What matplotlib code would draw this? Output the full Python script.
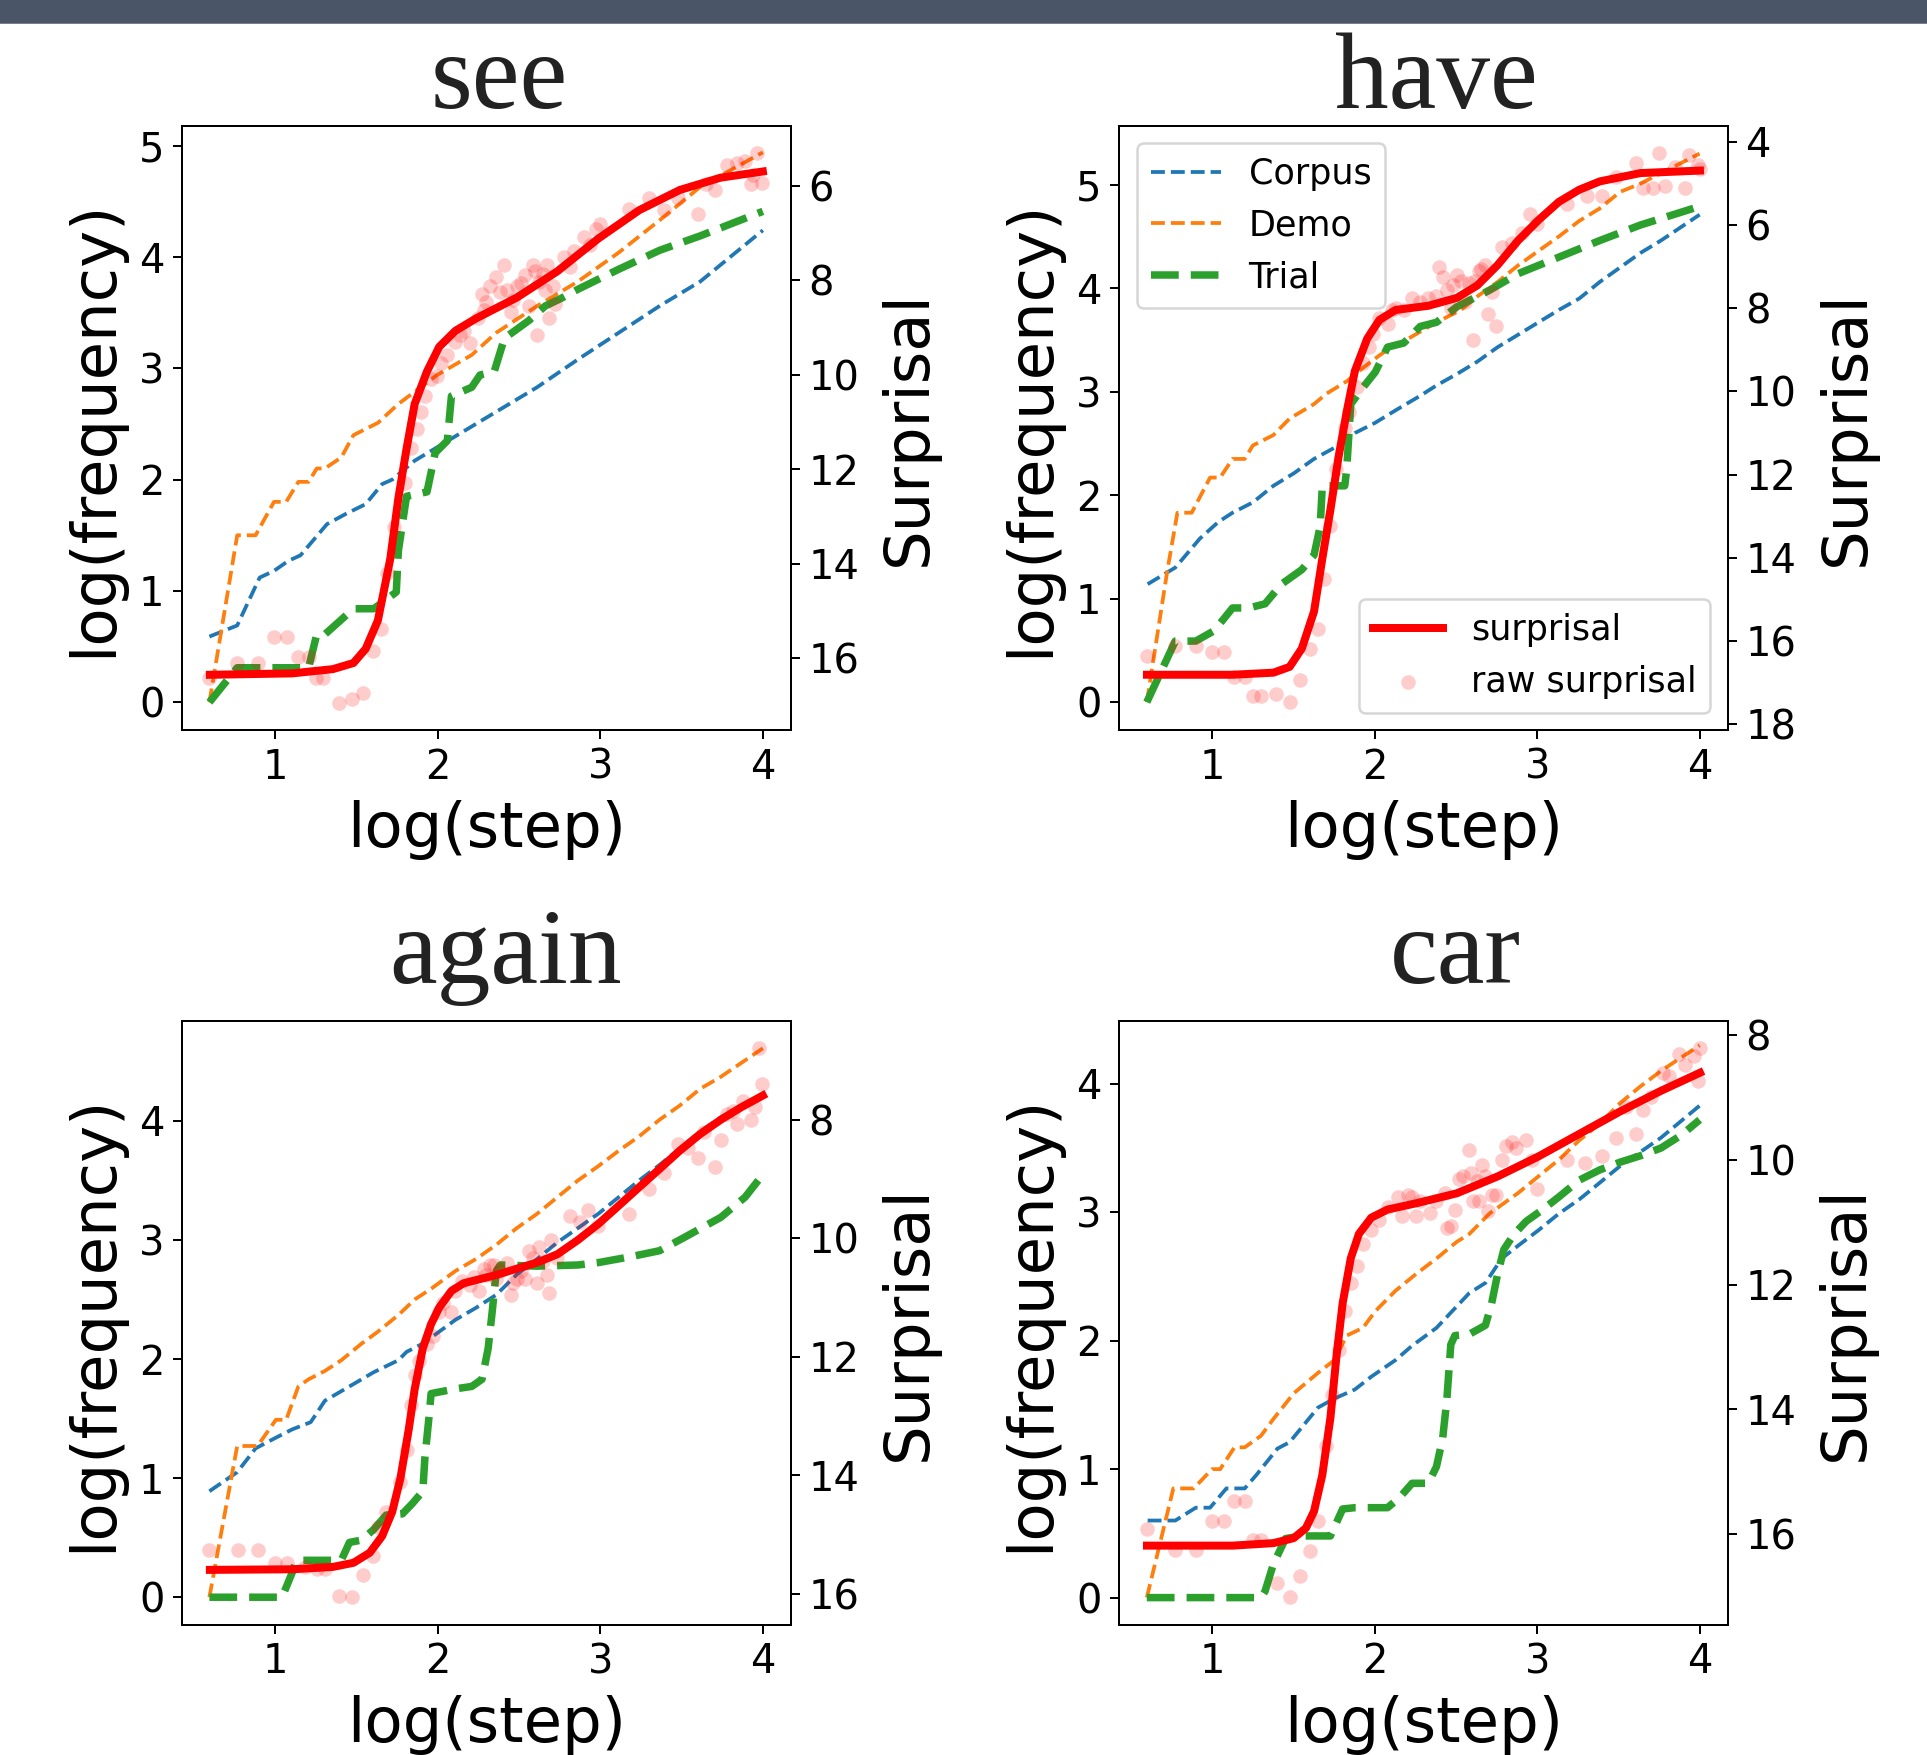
import matplotlib
matplotlib.use("Agg")
import matplotlib.pyplot as plt
from matplotlib.patches import Rectangle
from matplotlib.ticker import MultipleLocator

# ---------------- data: "see" ----------------
see_corpus_x = [0.597, 0.768, 0.906, 0.994, 1.082, 1.157, 1.320, 1.433, 1.558, 1.659, 1.721, 1.859,
                1.985, 2.110, 2.361, 2.612, 2.863, 3.114, 3.365, 3.615, 4.0]
see_corpus = [0.59, 0.69, 1.12, 1.18, 1.27, 1.32, 1.60, 1.69, 1.78, 1.96, 2.00, 2.17,
              2.28, 2.39, 2.61, 2.83, 3.08, 3.32, 3.56, 3.78, 4.24]
see_demo_x = [0.597, 0.768, 0.881, 0.994, 1.069, 1.144, 1.207, 1.257, 1.307, 1.408, 1.483, 1.633,
              1.759, 1.997, 2.210, 2.361, 2.612, 2.863, 3.114, 3.365, 3.615, 4.0]
see_demo = [0.0, 1.50, 1.50, 1.80, 1.80, 1.98, 1.98, 2.10, 2.10, 2.20, 2.40, 2.51,
            2.68, 2.94, 3.12, 3.32, 3.56, 3.78, 4.04, 4.33, 4.63, 4.94]
see_trial_x = [0.597, 0.768, 1.207, 1.257, 1.307, 1.483, 1.608, 1.746, 1.759, 1.809, 1.935, 1.985,
               2.060, 2.085, 2.210, 2.261, 2.348, 2.411, 2.562, 2.662, 2.762, 2.863, 3.114, 3.365,
               3.615, 4.0]
see_trial = [0.0, 0.31, 0.31, 0.61, 0.61, 0.84, 0.84, 0.99, 1.36, 1.85, 1.89, 2.24,
             2.35, 2.75, 2.83, 2.94, 2.97, 3.27, 3.43, 3.56, 3.63, 3.71, 3.89, 4.06,
             4.19, 4.41]
see_surp_x = [0.6, 1.107, 1.357, 1.483, 1.558, 1.633, 1.709, 1.759, 1.809, 1.859, 1.935, 2.010,
              2.110, 2.236, 2.486, 2.737, 2.988, 3.239, 3.490, 3.741, 4.0]
see_surp = [16.35, 16.32, 16.23, 16.10, 15.80, 15.20, 13.90, 12.61, 11.57, 10.62, 9.93, 9.41,
            9.07, 8.81, 8.37, 7.81, 7.12, 6.52, 6.09, 5.83, 5.70]
see_raw_x = [0.597, 0.768, 0.893, 0.994, 1.074, 1.144, 1.207, 1.252, 1.295, 1.395, 1.475, 1.541,
             1.601, 1.654, 1.691, 1.729, 1.797, 1.834, 1.872, 1.897, 1.922, 1.960, 1.997, 2.022,
             2.060, 2.110, 2.135, 2.160, 2.198, 2.248, 2.286, 2.273, 2.298, 2.323, 2.361, 2.386,
             2.411, 2.424, 2.449, 2.462, 2.487, 2.512, 2.537, 2.562, 2.587, 2.599, 2.612, 2.624,
             2.650, 2.662, 2.675, 2.687, 2.712, 2.725, 2.775, 2.813, 2.838, 2.900, 2.938, 2.976,
             3.001, 3.176, 3.302, 3.390, 3.477, 3.603, 3.653, 3.703, 3.778, 3.841, 3.891, 3.929,
             3.967, 3.992, 3.942]
see_raw = [16.41, 16.10, 16.10, 15.56, 15.56, 15.97, 15.97, 16.41, 16.41, 16.94, 16.86, 16.73,
           15.84, 15.39, 14.20, 13.23, 12.30, 11.55, 11.14, 10.79, 10.45, 10.10, 10.02, 9.76,
           9.58, 9.31, 9.15, 9.07, 9.32, 8.81, 8.63, 8.29, 8.46, 8.12, 7.94, 8.25,
           7.68, 8.20, 8.68, 8.42, 8.12, 8.07, 7.90, 8.55, 7.68, 7.81, 9.15, 8.03,
           7.86, 8.20, 7.68, 8.81, 8.12, 8.50, 7.51, 7.73, 7.38, 7.08, 7.25, 6.91,
           6.82, 6.50, 6.26, 6.52, 6.26, 6.60, 5.96, 6.09, 5.57, 5.51, 5.48, 5.96,
           5.31, 5.94, 5.78]

# ---------------- data: "have" ----------------
have_corpus_x = [0.604, 0.774, 0.925, 1.038, 1.126, 1.251, 1.377, 1.502, 1.627, 1.778, 1.878, 2.004,
                 2.129, 2.280, 2.380, 2.505, 2.631, 2.756, 2.882, 3.007, 3.133, 3.258, 3.384, 3.509,
                 3.634, 3.760, 3.998]
have_corpus = [1.14, 1.30, 1.58, 1.74, 1.83, 1.93, 2.09, 2.21, 2.35, 2.48, 2.60, 2.70,
               2.82, 2.96, 3.06, 3.17, 3.29, 3.43, 3.55, 3.67, 3.79, 3.90, 4.06, 4.20,
               4.34, 4.46, 4.71]
have_demo_x = [0.599, 0.724, 0.787, 0.875, 0.988, 1.050, 1.126, 1.201, 1.251, 1.377, 1.477, 1.627,
               1.703, 1.828, 1.928, 2.029, 2.104, 2.204, 2.380, 2.531, 2.631, 2.756, 2.882, 3.007,
               3.133, 3.258, 3.384, 3.509, 3.634, 3.998]
have_demo = [0.0, 1.26, 1.83, 1.83, 2.17, 2.17, 2.35, 2.35, 2.48, 2.58, 2.74, 2.88,
             2.98, 3.10, 3.23, 3.35, 3.43, 3.51, 3.67, 3.79, 3.92, 4.06, 4.22, 4.36,
             4.50, 4.65, 4.77, 4.93, 5.01, 5.30]
have_trial_x = [0.599, 0.774, 0.900, 1.013, 1.126, 1.226, 1.326, 1.427, 1.552, 1.627, 1.665, 1.678,
                1.816, 1.828, 1.853, 1.928, 2.004, 2.079, 2.179, 2.280, 2.380, 2.505, 2.706, 2.882,
                3.133, 3.384, 3.634, 3.998]
have_trial = [0.0, 0.59, 0.59, 0.69, 0.91, 0.91, 0.95, 1.14, 1.28, 1.42, 1.70, 2.09,
              2.09, 2.25, 2.88, 3.04, 3.19, 3.43, 3.47, 3.63, 3.67, 3.82, 3.98, 4.14,
              4.30, 4.46, 4.61, 4.79]
have_surp_x = [0.6, 1.126, 1.377, 1.477, 1.552, 1.627, 1.678, 1.728, 1.778, 1.828, 1.878, 1.954,
               2.029, 2.129, 2.330, 2.505, 2.631, 2.756, 2.882, 3.007, 3.133, 3.258, 3.384, 3.634,
               4.0]
have_surp = [16.81, 16.81, 16.76, 16.62, 16.18, 15.29, 14.02, 12.84, 11.57, 10.49, 9.51, 8.73,
             8.28, 8.04, 7.94, 7.75, 7.45, 6.96, 6.37, 5.88, 5.44, 5.15, 4.95, 4.75,
             4.69]
have_raw_x = [0.599, 0.774, 0.900, 1.000, 1.075, 1.138, 1.201, 1.251, 1.301, 1.394, 1.477, 1.540,
              1.602, 1.652, 1.690, 1.728, 1.765, 1.816, 1.841, 1.891, 1.928, 1.966, 1.991, 2.029,
              2.079, 2.104, 2.129, 2.179, 2.230, 2.280, 2.330, 2.380, 2.393, 2.418, 2.443, 2.468,
              2.480, 2.505, 2.531, 2.556, 2.581, 2.606, 2.618, 2.643, 2.656, 2.681, 2.694, 2.719,
              2.744, 2.781, 2.844, 2.907, 2.957, 2.995, 3.183, 3.308, 3.396, 3.484, 3.609, 3.647,
              3.710, 3.747, 3.785, 3.848, 3.910, 3.935, 3.986, 3.998]
have_raw = [16.37, 16.13, 16.13, 16.27, 16.27, 16.86, 16.86, 17.33, 17.33, 17.27, 17.47, 16.94,
            16.18, 15.71, 14.51, 13.24, 11.86, 10.88, 10.49, 9.90, 9.31, 8.92, 8.63, 8.24,
            8.38, 8.04, 7.99, 8.04, 7.75, 7.84, 7.75, 7.70, 7.01, 7.25, 7.55, 7.99,
            7.45, 7.21, 7.35, 7.84, 7.40, 8.77, 7.35, 7.11, 7.06, 6.96, 8.14, 7.60,
            8.43, 6.52, 6.42, 6.18, 5.74, 5.98, 5.49, 5.29, 5.29, 4.85, 4.51, 5.10,
            5.10, 4.26, 5.05, 4.61, 5.10, 4.31, 4.56, 4.66]

# ---------------- data: "again" ----------------
again_corpus_x = [0.597, 0.768, 0.881, 1.006, 1.107, 1.220, 1.307, 1.458, 1.608, 1.759, 1.809, 1.909,
                  2.010, 2.110, 2.236, 2.361, 2.487, 2.612, 2.737, 2.863, 2.988, 3.114, 3.239, 3.365,
                  3.490, 3.615, 3.741, 4.0]
again_corpus = [0.89, 1.05, 1.25, 1.34, 1.41, 1.47, 1.65, 1.77, 1.89, 1.99, 2.06, 2.13,
                2.23, 2.33, 2.43, 2.54, 2.71, 2.84, 2.98, 3.10, 3.22, 3.36, 3.50, 3.63,
                3.77, 3.91, 4.03, 4.20]
again_demo_x = [0.597, 0.768, 0.893, 1.006, 1.069, 1.144, 1.207, 1.307, 1.408, 1.533, 1.633, 1.759,
                1.859, 1.960, 2.110, 2.236, 2.361, 2.487, 2.612, 2.737, 2.863, 2.988, 3.114, 3.239,
                3.365, 3.490, 3.615, 3.741, 4.0]
again_demo = [0.0, 1.27, 1.27, 1.49, 1.49, 1.77, 1.83, 1.90, 1.99, 2.13, 2.23, 2.37,
              2.50, 2.59, 2.74, 2.84, 2.96, 3.10, 3.22, 3.36, 3.50, 3.62, 3.75, 3.87,
              4.01, 4.13, 4.27, 4.37, 4.61]
again_trial_x = [0.597, 1.044, 1.107, 1.132, 1.408, 1.458, 1.533, 1.608, 1.684, 1.784, 1.847, 1.909,
                 1.922, 1.947, 1.960, 2.110, 2.210, 2.273, 2.311, 2.336, 2.361, 2.386, 2.612, 2.863,
                 2.988, 3.189, 3.365, 3.515, 3.741, 3.891, 4.0]
again_trial = [0.0, 0.0, 0.21, 0.31, 0.31, 0.46, 0.48, 0.57, 0.69, 0.70, 0.79, 0.89,
               1.17, 1.51, 1.71, 1.75, 1.77, 1.83, 2.09, 2.40, 2.74, 2.79, 2.78, 2.79,
               2.81, 2.86, 2.91, 3.02, 3.19, 3.36, 3.55]
again_surp_x = [0.6, 1.107, 1.357, 1.483, 1.583, 1.659, 1.721, 1.771, 1.822, 1.859, 1.909, 1.960,
                2.010, 2.085, 2.160, 2.361, 2.612, 2.737, 2.863, 2.988, 3.114, 3.239, 3.365, 3.490,
                3.615, 3.741, 3.866, 4.0]
again_surp = [15.60, 15.59, 15.55, 15.48, 15.31, 15.03, 14.62, 14.06, 13.24, 12.55, 11.86, 11.45,
              11.17, 10.89, 10.76, 10.62, 10.41, 10.27, 10.03, 9.76, 9.45, 9.14, 8.83, 8.52,
              8.24, 8.00, 7.79, 7.59]
again_raw_x = [0.597, 0.773, 0.898, 0.999, 1.074, 1.182, 1.257, 1.307, 1.395, 1.475, 1.541, 1.601,
               1.633, 1.684, 1.771, 1.809, 1.834, 1.859, 1.884, 1.935, 1.972, 2.010, 2.035, 2.085,
               2.110, 2.148, 2.198, 2.223, 2.256, 2.286, 2.298, 2.323, 2.348, 2.361, 2.386, 2.424,
               2.449, 2.462, 2.487, 2.512, 2.537, 2.562, 2.587, 2.612, 2.624, 2.650, 2.675, 2.687,
               2.700, 2.737, 2.813, 2.875, 2.926, 2.988, 3.176, 3.302, 3.390, 3.477, 3.540, 3.603,
               3.641, 3.703, 3.741, 3.778, 3.816, 3.841, 3.879, 3.929, 3.954, 3.979, 3.997]
again_raw = [15.27, 15.27, 15.27, 15.49, 15.49, 15.55, 15.58, 15.58, 16.04, 16.06, 15.68, 15.37,
             14.88, 14.63, 14.12, 13.58, 12.81, 12.31, 12.07, 11.79, 11.65, 11.24, 11.10, 11.24,
             10.89, 10.72, 10.79, 10.65, 10.89, 10.52, 10.62, 10.45, 10.45, 10.69, 10.55, 10.41,
             10.96, 10.76, 10.69, 10.55, 10.69, 10.21, 10.34, 10.76, 10.14, 10.38, 10.62, 10.93,
             10.03, 10.34, 9.62, 9.72, 9.52, 9.79, 9.59, 9.17, 8.90, 8.41, 8.48, 8.65,
             8.21, 8.79, 8.34, 7.90, 7.86, 8.07, 7.69, 8.00, 7.79, 6.79, 7.40]

# ---------------- data: "car" ----------------
car_corpus_x = [0.604, 0.774, 0.900, 0.988, 1.088, 1.201, 1.276, 1.402, 1.477, 1.652, 1.753, 1.878,
                1.979, 2.129, 2.229, 2.380, 2.581, 2.681, 2.781, 2.882, 3.007, 3.133, 3.258, 3.384,
                3.509, 3.634, 3.760, 3.998]
car_corpus = [0.60, 0.60, 0.70, 0.70, 0.85, 0.85, 0.96, 1.16, 1.21, 1.48, 1.55, 1.62,
              1.72, 1.85, 1.96, 2.10, 2.37, 2.45, 2.64, 2.74, 2.86, 2.99, 3.10, 3.23,
              3.36, 3.47, 3.58, 3.83]
car_demo_x = [0.599, 0.762, 0.887, 1.000, 1.050, 1.138, 1.201, 1.301, 1.377, 1.502, 1.652, 1.753,
              1.828, 1.928, 2.004, 2.129, 2.255, 2.380, 2.505, 2.581, 2.706, 2.882, 3.007, 3.133,
              3.258, 3.384, 3.509, 3.634, 3.760, 3.998]
car_demo = [0.0, 0.85, 0.85, 1.00, 1.00, 1.17, 1.17, 1.26, 1.39, 1.59, 1.75, 1.85,
            2.04, 2.10, 2.23, 2.39, 2.52, 2.64, 2.77, 2.83, 2.99, 3.15, 3.28, 3.41,
            3.56, 3.69, 3.85, 3.98, 4.10, 4.30]
car_trial_x = [0.599, 1.301, 1.326, 1.377, 1.452, 1.552, 1.728, 1.803, 1.878, 2.079, 2.154, 2.230,
               2.330, 2.380, 2.418, 2.443, 2.468, 2.493, 2.581, 2.681, 2.719, 2.756, 2.794, 2.857,
               2.932, 3.032, 3.133, 3.258, 3.384, 3.509, 3.634, 3.760, 3.885, 3.998]
car_trial = [0.0, 0.0, 0.05, 0.26, 0.46, 0.48, 0.48, 0.69, 0.70, 0.70, 0.78, 0.89,
             0.89, 1.02, 1.24, 1.53, 1.97, 2.04, 2.05, 2.12, 2.29, 2.52, 2.71, 2.83,
             2.93, 3.02, 3.12, 3.25, 3.33, 3.39, 3.44, 3.50, 3.60, 3.72]
car_surp_x = [0.6, 1.126, 1.377, 1.502, 1.577, 1.627, 1.678, 1.728, 1.765, 1.803, 1.853, 1.903,
              1.979, 2.079, 2.255, 2.505, 2.756, 3.007, 3.258, 3.509, 3.760, 4.0]
car_surp = [16.18, 16.18, 16.14, 16.06, 15.90, 15.63, 15.05, 14.13, 13.15, 12.30, 11.58, 11.19,
            10.93, 10.80, 10.70, 10.54, 10.27, 9.95, 9.59, 9.23, 8.90, 8.61]
car_raw_x = [0.599, 0.774, 0.900, 1.000, 1.075, 1.138, 1.201, 1.251, 1.301, 1.397, 1.477, 1.540,
             1.602, 1.652, 1.703, 1.740, 1.778, 1.816, 1.853, 1.891, 1.928, 1.979, 2.029, 2.079,
             2.142, 2.167, 2.204, 2.230, 2.255, 2.280, 2.342, 2.380, 2.430, 2.443, 2.468, 2.493,
             2.518, 2.543, 2.581, 2.593, 2.606, 2.631, 2.643, 2.661, 2.681, 2.694, 2.719, 2.744,
             2.781, 2.807, 2.844, 2.869, 2.932, 2.970, 2.995, 3.183, 3.296, 3.396, 3.484, 3.547,
             3.609, 3.647, 3.697, 3.772, 3.810, 3.873, 3.910, 3.961, 3.986, 3.998]
car_raw = [15.92, 16.25, 16.25, 15.78, 15.78, 15.47, 15.47, 16.09, 16.09, 16.78, 17.01, 16.67,
           16.27, 15.78, 14.59, 13.77, 13.05, 12.43, 11.97, 11.71, 11.35, 11.12, 10.96, 10.76,
           10.60, 10.90, 10.57, 10.60, 10.90, 10.67, 10.86, 10.67, 10.54, 11.09, 11.06, 10.80,
           10.31, 10.27, 9.85, 10.21, 10.67, 10.34, 10.67, 10.08, 10.27, 10.83, 10.57, 10.57,
           10.01, 9.78, 9.72, 9.82, 9.69, 10.01, 10.47, 10.01, 10.05, 9.95, 9.65, 9.16,
           9.59, 9.20, 9.00, 8.61, 8.67, 8.31, 8.48, 8.35, 8.74, 8.22]

WORDS = ["see", "have", "again", "car"]

# axes layout (figure fractions) and limits per panel
PANELS = {
    "see":   dict(rect=[0.0944, 0.5840, 0.3160, 0.3444], ylim=(-0.25, 5.18), ylim2=(17.52, 4.73),
                  title_xy=(0.2593, 1 - 108 / 1755)),
    "have":  dict(rect=[0.5807, 0.5840, 0.3160, 0.3444], ylim=(-0.27, 5.57), ylim2=(18.14, 3.61),
                  title_xy=(0.7456, 1 - 108 / 1755)),
    "again": dict(rect=[0.0944, 0.0741, 0.3160, 0.3442], ylim=(-0.233, 4.84), ylim2=(16.53, 6.33),
                  title_xy=(0.2623, 1 - 983 / 1755)),
    "car":   dict(rect=[0.5807, 0.0741, 0.3160, 0.3442], ylim=(-0.213, 4.49), ylim2=(17.45, 7.78),
                  title_xy=(0.7551, 1 - 983 / 1755)),
}


def draw_panel(fig, word, cfg):
    g = globals()
    ax = fig.add_axes(cfg["rect"])
    ax.plot(g[word + "_corpus_x"], g[word + "_corpus"], "--", color="tab:blue", lw=1.5, label="Corpus")
    ax.plot(g[word + "_demo_x"], g[word + "_demo"], "--", color="tab:orange", lw=1.5, label="Demo")
    ax.plot(g[word + "_trial_x"], g[word + "_trial"], "--", color="tab:green", lw=3, label="Trial")
    ax.set_xlim(0.428, 4.172)
    ax.set_ylim(*cfg["ylim"])
    ax.xaxis.set_major_locator(MultipleLocator(1))
    ax.yaxis.set_major_locator(MultipleLocator(1))
    ax.set_xlabel("log(step)", fontsize=25, labelpad=5)
    ax.set_ylabel("log(frequency)", fontsize=25, labelpad=6)
    ax.tick_params(labelsize=16)

    ax2 = ax.twinx()
    ax2.plot(g[word + "_surp_x"], g[word + "_surp"], "-", color="red", lw=3.2, label="surprisal")
    ax2.scatter(g[word + "_raw_x"], g[word + "_raw"], s=34, color="red", alpha=0.2,
                linewidths=0, label="raw surprisal")
    ax2.set_ylim(*cfg["ylim2"])
    ax2.yaxis.set_major_locator(MultipleLocator(2))
    ax2.set_ylabel("Surprisal", fontsize=25, labelpad=8)
    ax2.tick_params(labelsize=16)

    if word == "have":
        ax.legend(loc="upper left", fontsize=14)
        ax2.legend(loc="lower right", fontsize=14)

    fig.text(cfg["title_xy"][0], cfg["title_xy"][1], word, ha="center", va="baseline",
             fontsize=43, family=["Liberation Serif", "DejaVu Serif"], color="#222222")


if __name__ == "__main__":
    fig = plt.figure(figsize=(1927 / 180, 1755 / 180), dpi=180)
    fig.patches.append(Rectangle((0, 1 - 22 / 1755), 1, 22 / 1755, transform=fig.transFigure,
                                 color="#4a5568", zorder=0))
    for w in WORDS:
        draw_panel(fig, w, PANELS[w])
    fig.savefig("out.png", dpi=180)
